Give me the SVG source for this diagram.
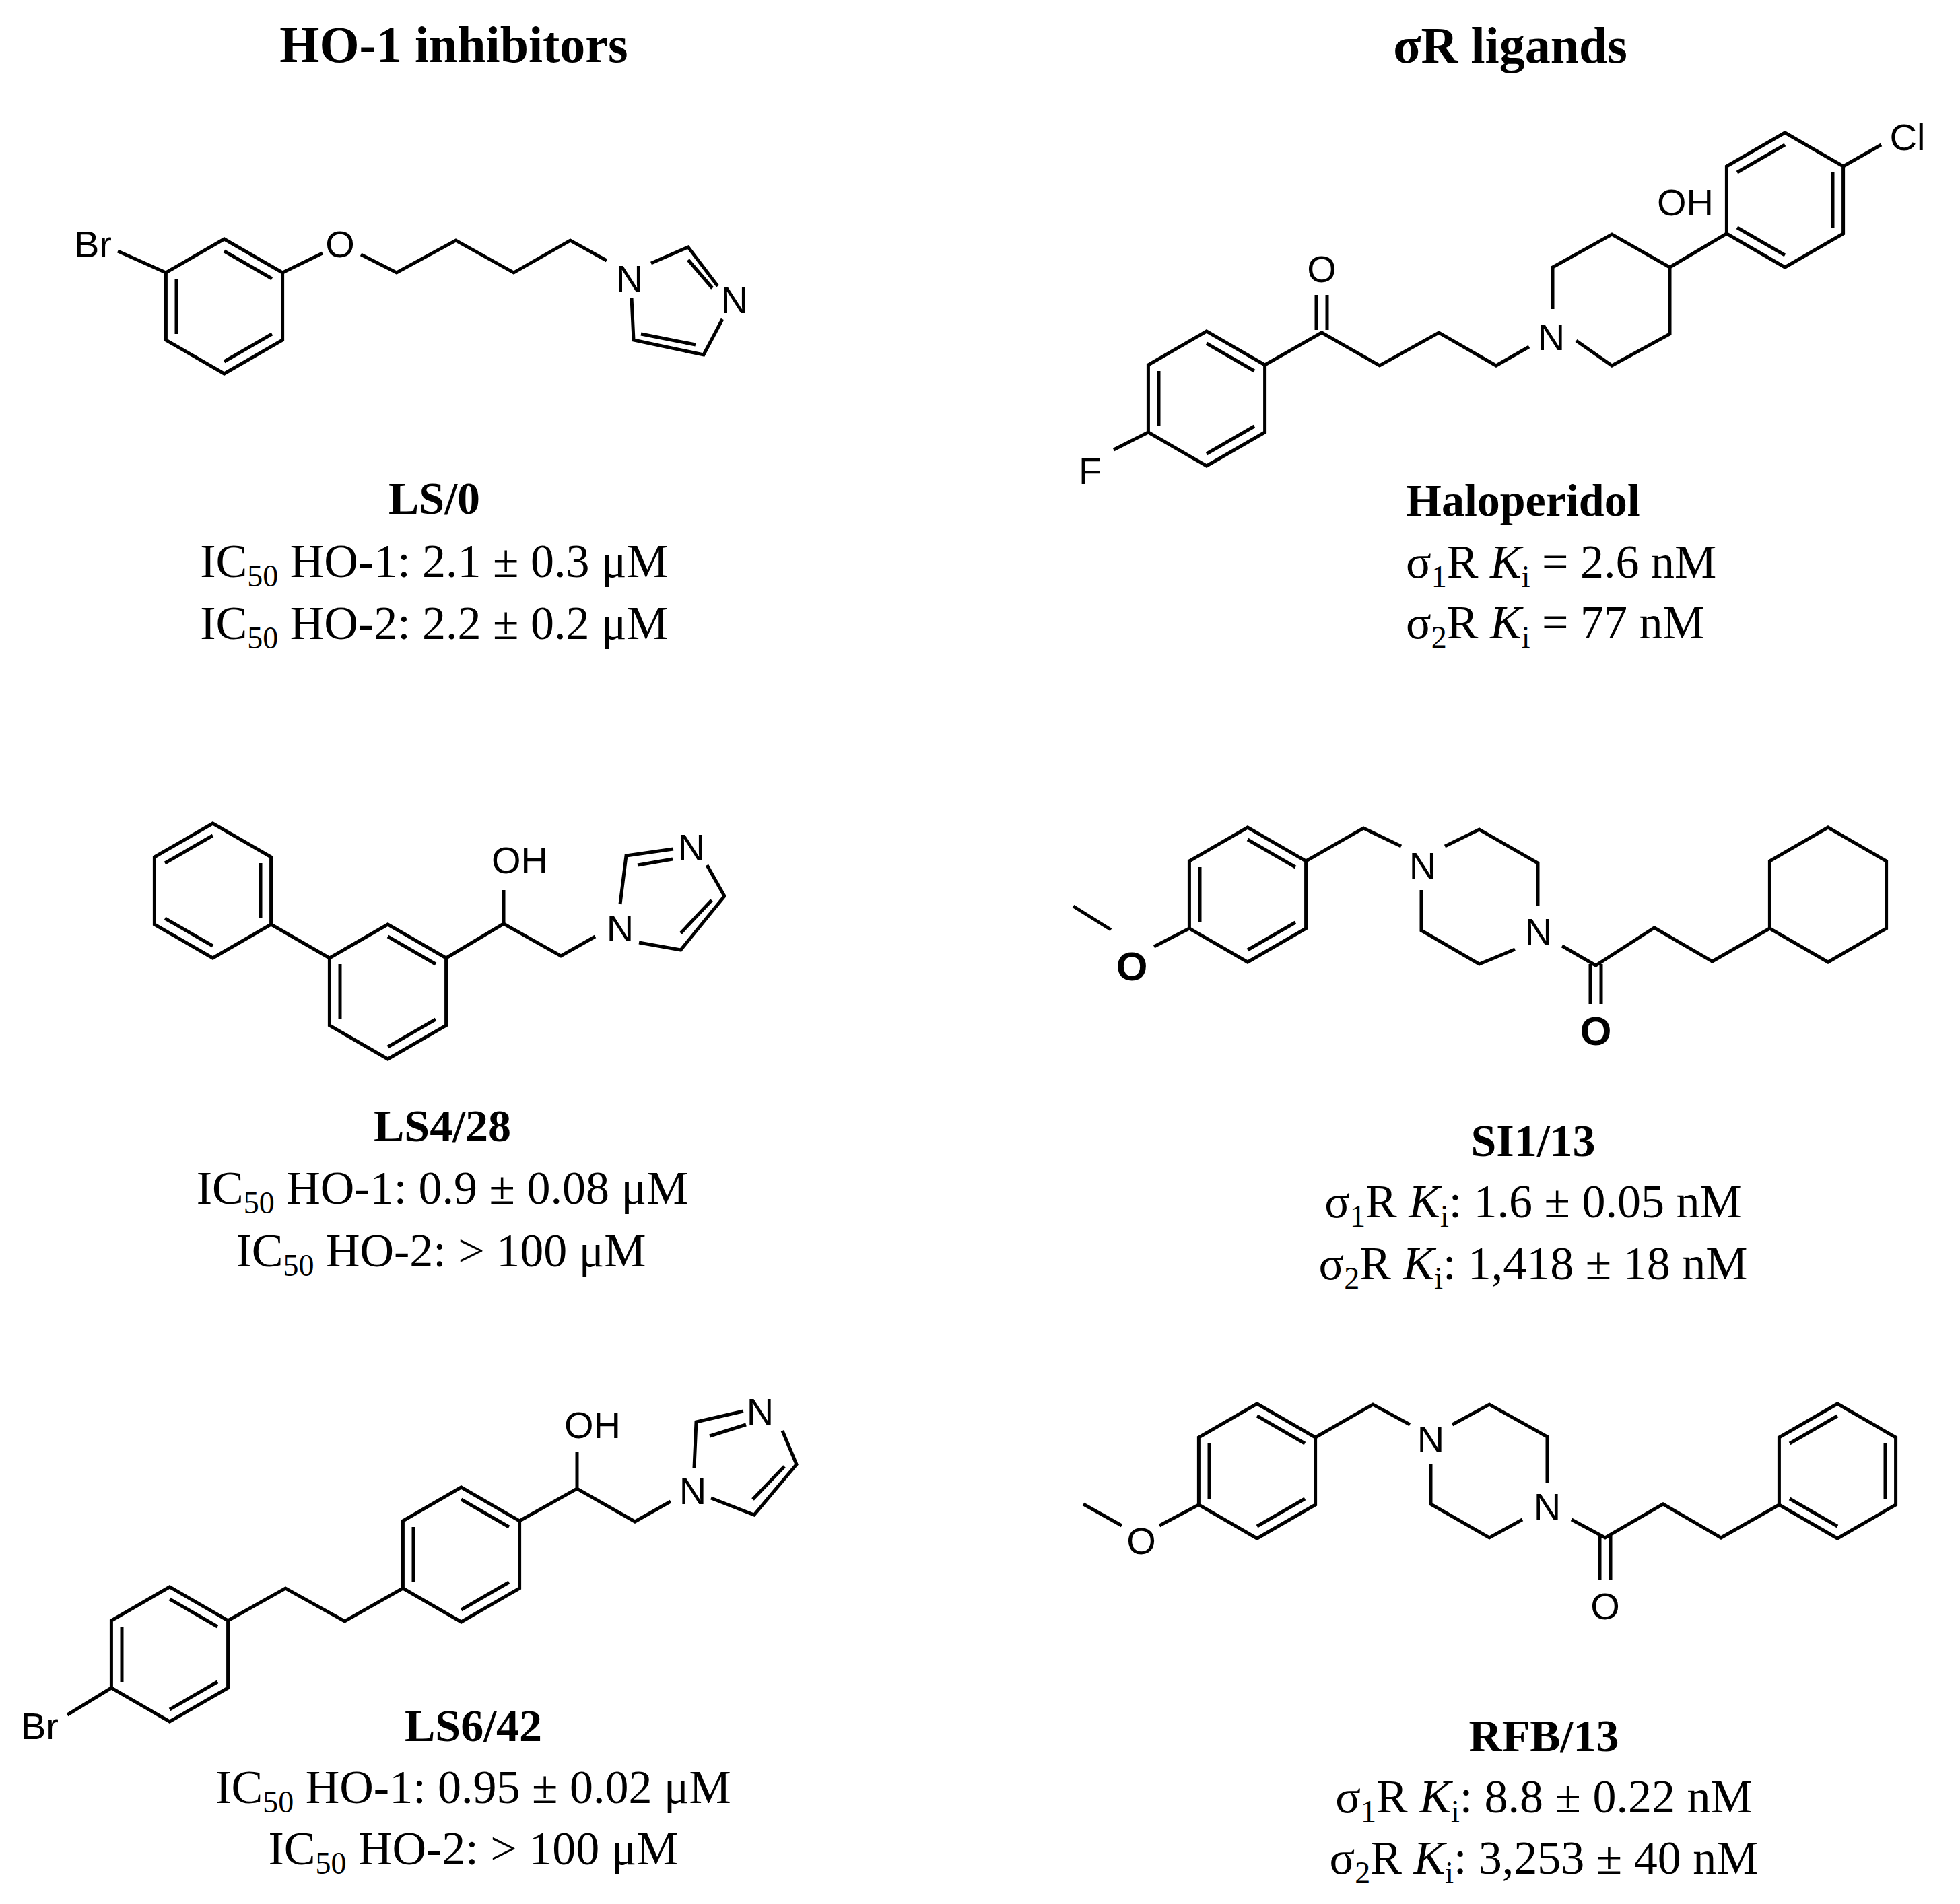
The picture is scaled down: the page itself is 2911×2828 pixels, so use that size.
<svg xmlns="http://www.w3.org/2000/svg" xmlns:xlink="http://www.w3.org/1999/xlink" width="2911" height="2828" viewBox="0 0 2911 2828">
<style>
.bd{fill:none;stroke:#000;stroke-width:5;stroke-linejoin:miter;stroke-linecap:butt}
.lbl{font-family:"Liberation Sans",Arial,sans-serif;font-size:56px;text-anchor:middle;fill:#000}
.lb{font-weight:bold;font-size:60px}
.t{font-family:"Liberation Serif","Times New Roman",serif;font-size:70px;fill:#000}
.c{text-anchor:middle}
.b{font-family:"Liberation Serif","Times New Roman",serif;font-size:68px;font-weight:bold;fill:#000}
.title{font-family:"Liberation Serif","Times New Roman",serif;font-size:76px;font-weight:bold;text-anchor:middle;fill:#000}
.s{font-size:46px}
</style>
<defs>
<path id="hex" class="bd" d="M0,-100 L86.6,-50 L86.6,50 L0,100 L-86.6,50 L-86.6,-50 Z"/>
<g id="ringA"><use xlink:href="#hex"/><path class="bd" d="M0,-82 L71,-41 M71,41 L0,82 M-71,41 L-71,-41"/></g>
<g id="ringB"><use xlink:href="#hex"/><path class="bd" d="M-71,-41 L0,-82 M71,-41 L71,41 M-71,41 L0,82"/></g>
</defs>
<rect width="2911" height="2828" fill="#fff"/>
<text class="title" x="674" y="92">HO-1 inhibitors</text>
<text class="title" x="2243" y="93">σR ligands</text>

<g id="LS0">
<use xlink:href="#ringA" x="333" y="455"/>
<path class="bd" d="M175,373 L246.4,405 M419.6,405 L479,376 M536,378 L589,405 L677,357 L763,405 L847,357 L901,387 M967,391 L1022,367 L1066,425 M1022,386 L1058,428 M1073,474 L1045,527 L941,505 L938,442 M952,496 L1033,512"/>
<text class="lbl" x="138" y="382">Br</text>
<text class="lbl" x="505" y="382">O</text>
<text class="lbl" x="935" y="433">N</text>
<text class="lbl" x="1091" y="465">N</text>
<text class="b c" x="645" y="763">LS/0</text>
<text class="t c" x="645" y="857">IC<tspan class="s" dy="14">50</tspan><tspan dy="-14"> HO-1: 2.1 ± 0.3 μM</tspan></text>
<text class="t c" x="645" y="949">IC<tspan class="s" dy="14">50</tspan><tspan dy="-14"> HO-2: 2.2 ± 0.2 μM</tspan></text>
</g>

<g id="LS428">
<use xlink:href="#ringB" x="316" y="1323"/>
<use xlink:href="#ringA" x="576" y="1473"/>
<path class="bd" d="M402.6,1373 L489.4,1423 M662.6,1423 L748,1372 L833,1420 L884,1391 M748,1372 L748,1322 M921,1343 L930,1271 L1000,1261 M947,1285 L999,1276 M1050,1285 L1076,1331 L1011,1411 L949,1400 M1011,1386 L1057,1337"/>
<text class="lbl" x="772" y="1297">OH</text>
<text class="lbl" x="921" y="1398">N</text>
<text class="lbl" x="1027" y="1278">N</text>
<text class="b c" x="657" y="1695">LS4/28</text>
<text class="t c" x="657" y="1788">IC<tspan class="s" dy="14">50</tspan><tspan dy="-14"> HO-1: 0.9 ± 0.08 μM</tspan></text>
<text class="t c" x="655" y="1881">IC<tspan class="s" dy="14">50</tspan><tspan dy="-14"> HO-2: &gt; 100 μM</tspan></text>
</g>

<g id="LS642">
<use xlink:href="#ringA" x="252" y="2457"/>
<use xlink:href="#ringA" x="685" y="2309"/>
<path class="bd" d="M165.4,2507 L100,2547 M338.6,2407 L424,2359 L512,2408 L598.4,2359 M771.6,2259 L857,2211 L943,2260 L996,2230 M857,2211 L857,2157 M1031,2180 L1034,2112 L1104,2096 M1054,2133 L1108,2116 M1162,2125 L1183,2175 L1120,2250 L1056,2225 M1118,2227 L1165,2178"/>
<text class="lbl" x="59" y="2583">Br</text>
<text class="lbl" x="880" y="2136">OH</text>
<text class="lbl" x="1029" y="2234">N</text>
<text class="lbl" x="1129" y="2116">N</text>
<text class="b c" x="703" y="2586">LS6/42</text>
<text class="t c" x="703" y="2678">IC<tspan class="s" dy="14">50</tspan><tspan dy="-14"> HO-1: 0.95 ± 0.02 μM</tspan></text>
<text class="t c" x="703" y="2769">IC<tspan class="s" dy="14">50</tspan><tspan dy="-14"> HO-2: &gt; 100 μM</tspan></text>
</g>

<g id="haloperidol">
<use xlink:href="#ringA" x="1792" y="592"/>
<use xlink:href="#ringB" x="2651" y="297"/>
<path class="bd" d="M1705.4,642 L1654,668 M1878.6,542 L1963,494 L2049,543 L2137,494 L2222,543 L2271,515 M1955,490 L1955,438 M1971,490 L1971,438 M2306,459 L2306,397 L2394,348 L2480,397 L2480,496 L2394,543 L2341,506 M2480,397 L2564.4,347 M2737.6,247 L2794,215"/>
<text class="lbl" x="1619" y="719">F</text>
<text class="lbl" x="1963" y="419">O</text>
<text class="lbl" x="2304" y="520">N</text>
<text class="lbl" x="2503" y="320">OH</text>
<text class="lbl" x="2833" y="223">Cl</text>
<text class="b" x="2088" y="766">Haloperidol</text>
<text class="t" x="2088" y="858">σ<tspan class="s" dy="14">1</tspan><tspan dy="-14">R </tspan><tspan font-style="italic">K</tspan><tspan class="s" dy="14">i</tspan><tspan dy="-14"> = 2.6 nM</tspan></text>
<text class="t" x="2088" y="948">σ<tspan class="s" dy="14">2</tspan><tspan dy="-14">R </tspan><tspan font-style="italic">K</tspan><tspan class="s" dy="14">i</tspan><tspan dy="-14"> = 77 nM</tspan></text>
</g>

<g id="SI113">
<use xlink:href="#ringA" x="1853" y="1329"/>
<use xlink:href="#hex" x="2715" y="1329"/>
<path class="bd" d="M1594,1346 L1650,1381 M1714,1406 L1766.4,1379 M1939.6,1279 L2025,1230 L2081,1257 M2146,1257 L2197,1232 L2284,1282 L2284,1346 M2250,1410 L2197,1432 L2111,1382 L2111,1322 M2320,1405 L2370,1434 L2457,1378 L2543,1428 L2628.4,1379 M2362,1432 L2362,1491 M2378,1432 L2378,1491"/>
<text class="lbl lb" x="1681" y="1456">O</text>
<text class="lbl" x="2113" y="1305">N</text>
<text class="lbl" x="2285" y="1403">N</text>
<text class="lbl lb" x="2370" y="1552">O</text>
<text class="b c" x="2277" y="1717">SI1/13</text>
<text class="t c" x="2277" y="1808">σ<tspan class="s" dy="14">1</tspan><tspan dy="-14">R </tspan><tspan font-style="italic">K</tspan><tspan class="s" dy="14">i</tspan><tspan dy="-14">: 1.6 ± 0.05 nM</tspan></text>
<text class="t c" x="2277" y="1900">σ<tspan class="s" dy="14">2</tspan><tspan dy="-14">R </tspan><tspan font-style="italic">K</tspan><tspan class="s" dy="14">i</tspan><tspan dy="-14">: 1,418 ± 18 nM</tspan></text>
</g>

<g id="RFB13">
<use xlink:href="#ringA" x="1867" y="2185"/>
<use xlink:href="#ringB" x="2729" y="2185"/>
<path class="bd" d="M1609,2234 L1666,2266 M1722,2266 L1780.4,2235 M1953.6,2135 L2039,2086 L2094,2116 M2157,2116 L2212,2086 L2298,2134 L2298,2202 M2261,2257 L2212,2284 L2125,2234 L2125,2175 M2334,2257 L2384,2284 L2470,2234 L2556,2284 L2642.4,2235 M2376,2282 L2376,2347 M2392,2282 L2392,2347"/>
<text class="lbl" x="1695" y="2308">O</text>
<text class="lbl" x="2125" y="2157">N</text>
<text class="lbl" x="2298" y="2257">N</text>
<text class="lbl" x="2384" y="2405">O</text>
<text class="b c" x="2293" y="2601">RFB/13</text>
<text class="t c" x="2293" y="2692">σ<tspan class="s" dy="14">1</tspan><tspan dy="-14">R </tspan><tspan font-style="italic">K</tspan><tspan class="s" dy="14">i</tspan><tspan dy="-14">: 8.8 ± 0.22 nM</tspan></text>
<text class="t c" x="2293" y="2783">σ<tspan class="s" dy="14">2</tspan><tspan dy="-14">R </tspan><tspan font-style="italic">K</tspan><tspan class="s" dy="14">i</tspan><tspan dy="-14">: 3,253 ± 40 nM</tspan></text>
</g>
<g id="connectors"/>
</svg>
